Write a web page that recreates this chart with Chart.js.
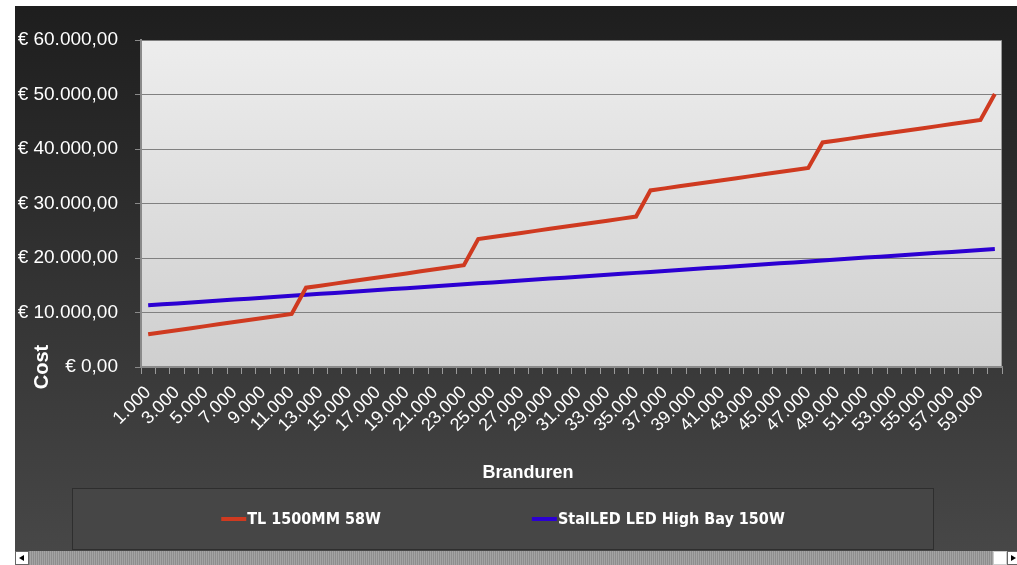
<!DOCTYPE html>
<html>
<head>
<meta charset="utf-8">
<script src="https://cdn.jsdelivr.net/npm/chart.js@4/dist/chart.umd.min.js"></script>
<style>
  body { margin: 0; background: #fff; width: 1017px; height: 565px; overflow: hidden; position: relative; }
  #wrap { position: absolute; left: 15px; top: 6px; width: 1002px; height: 545px; }
  #bar { position: absolute; left: 15px; top: 551px; width: 1002px; height: 14px;
         background-color: #9c9c9c;
         background-image: repeating-linear-gradient(90deg, #8e8e8e 0 1px, #a4a4a4 1px 2px); }
  .btn { position: absolute; top: 0; width: 12px; height: 12px; background: #fff; border: 1px solid #666; }
  .btn i { position: absolute; top: 3px; width: 0; height: 0; border-top: 3px solid transparent; border-bottom: 3px solid transparent; }
  #bl { left: 0; } #bl i { left: 3px; border-right: 5px solid #000; }
  #bm { left: 978px; border-color: #ccc; }
  #br { left: 992px; width: 9px; } #br i { left: 3px; border-left: 5px solid #000; }
</style>
</head>
<body>
<div id="wrap"><canvas id="c" width="1002" height="545"></canvas></div>
<div id="bar"><div class="btn" id="bl"><i></i></div><div class="btn" id="bm"></div><div class="btn" id="br"><i></i></div></div>
<script>
// branduren (burning hours)
var labels = ['1.000','2.000','3.000','4.000','5.000','6.000','7.000','8.000','9.000','10.000',
  '11.000','12.000','13.000','14.000','15.000','16.000','17.000','18.000','19.000','20.000',
  '21.000','22.000','23.000','24.000','25.000','26.000','27.000','28.000','29.000','30.000',
  '31.000','32.000','33.000','34.000','35.000','36.000','37.000','38.000','39.000','40.000',
  '41.000','42.000','43.000','44.000','45.000','46.000','47.000','48.000','49.000','50.000',
  '51.000','52.000','53.000','54.000','55.000','56.000','57.000','58.000','59.000','60.000'];

// cost in euro
var tlCost = [6000, 6375, 6750, 7125, 7500, 7875, 8250, 8625, 9000, 9375, 9750,
  14550, 14925, 15300, 15675, 16050, 16425, 16800, 17175, 17550, 17925, 18300, 18675,
  23475, 23850, 24225, 24600, 24975, 25350, 25725, 26100, 26475, 26850, 27225, 27600,
  32400, 32775, 33150, 33525, 33900, 34275, 34650, 35025, 35400, 35775, 36150, 36525,
  41200, 41575, 41950, 42325, 42700, 43075, 43450, 43825, 44200, 44575, 44950, 45325,
  50100];
var ledCost = [11320, 11495, 11670, 11845, 12020, 12195, 12370, 12545, 12720, 12895,
  13070, 13245, 13420, 13595, 13770, 13945, 14120, 14295, 14470, 14645,
  14820, 14995, 15170, 15345, 15520, 15695, 15870, 16045, 16220, 16395,
  16570, 16745, 16920, 17095, 17270, 17445, 17620, 17795, 17970, 18145,
  18320, 18495, 18670, 18845, 19020, 19195, 19370, 19545, 19720, 19895,
  20070, 20245, 20420, 20595, 20770, 20945, 21120, 21295, 21470, 21645];

var seriesNames = ['TL 1500MM 58W', 'StalLED LED High Bay 150W'];
var seriesColors = ['#cf3a20', '#2c00d2'];

function euro(v) {
  var s = String(Math.round(v)).replace(/\B(?=(\d{3})+(?!\d))/g, '.');
  return '€ ' + s + ',00';
}

var backdrop = {
  id: 'backdrop',
  beforeDraw: function(chart) {
    var ctx = chart.ctx, a = chart.chartArea;
    var g = ctx.createLinearGradient(0, 0, 0, chart.height);
    g.addColorStop(0, '#1e1e1e');
    g.addColorStop(1, '#474747');
    ctx.save();
    ctx.fillStyle = g;
    ctx.fillRect(0, 0, chart.width, chart.height);
    var p = ctx.createLinearGradient(0, a.top, 0, a.bottom);
    p.addColorStop(0, '#ededed');
    p.addColorStop(1, '#cfcfcf');
    ctx.fillStyle = p;
    ctx.fillRect(a.left, a.top, a.right - a.left, a.bottom - a.top);
    ctx.strokeStyle = '#9a9a9a';
    ctx.lineWidth = 1;
    ctx.strokeRect(a.left + 0.5, a.top + 0.5, a.right - a.left - 1, a.bottom - a.top - 1);
    // legend frame
    ctx.fillStyle = '#464646';
    ctx.fillRect(57, 482, 861, 61);
    ctx.strokeStyle = '#2e2e2e';
    ctx.strokeRect(57.5, 482.5, 861, 61);
    ctx.restore();
  },
  afterDraw: function(chart) {
    var ctx = chart.ctx, a = chart.chartArea;
    ctx.save();
    ctx.fillStyle = '#fff';
    ctx.textAlign = 'center';
    ctx.textBaseline = 'middle';
    // x axis title
    ctx.font = 'bold 18px "Liberation Sans", Arial, sans-serif';
    ctx.fillText('Branduren', 513, 467);
    // y axis title, sits low next to the 0 label
    ctx.translate(27, a.bottom);
    ctx.rotate(-Math.PI / 2);
    ctx.font = 'bold 20px "Liberation Sans", Arial, sans-serif';
    ctx.fillText('Cost', 0, 0);
    ctx.restore();

    // legend
    ctx.save();
    ctx.font = 'bold 16px "DejaVu Sans Condensed", "DejaVu Sans", sans-serif';
    ctx.textBaseline = 'middle';
    var sw = 25, gap = 152, y = 513;
    var w = chart.data.datasets.map(function(d) { return sw + ctx.measureText(d.label).width; });
    var total = w[0] + w[1] + gap;
    var x = 57 + 861 / 2 - total / 2;
    chart.data.datasets.forEach(function(d, i) {
      ctx.fillStyle = d.borderColor;
      ctx.fillRect(x, y - 2, sw, 4);
      ctx.fillStyle = '#fff';
      ctx.fillText(d.label, x + sw + 1, y + 1);
      x += w[i] + gap;
    });
    ctx.restore();
  }
};

var ctx = document.getElementById('c').getContext('2d');
var myChart = new Chart(ctx, {
  type: 'line',
  data: {
    labels: labels,
    datasets: [{
      label: seriesNames[0],
      data: tlCost,
      borderColor: seriesColors[0],
      backgroundColor: seriesColors[0],
      borderWidth: 4,
      pointRadius: 0,
      tension: 0
    }, {
      label: seriesNames[1],
      data: ledCost,
      borderColor: seriesColors[1],
      backgroundColor: seriesColors[1],
      borderWidth: 4,
      pointRadius: 0,
      tension: 0
    }]
  },
  options: {
    responsive: false,
    animation: false,
    devicePixelRatio: 1,
    layout: { padding: { top: 34, right: 15, bottom: 67, left: 0 } },
    plugins: {
      legend: { display: false },
      tooltip: { enabled: false }
    },
    scales: {
      x: {
        offset: true,
        afterFit: function(s) { s.height = 117; s.paddingLeft = 0; s.paddingRight = 0; },
        grid: { offset: true, drawOnChartArea: false, tickLength: 7, tickColor: '#9a9a9a' },
        border: { color: '#8a8a8a', width: 2 },
        ticks: {
          autoSkip: false,
          maxRotation: 45,
          minRotation: 45,
          padding: 8,
          color: '#fff',
          font: { family: '"Liberation Sans", Arial, sans-serif', size: 18 },
          callback: function(v, i) { return i % 2 === 0 ? labels[i] : ''; }
        }
      },
      y: {
        min: 0,
        max: 60000,
        afterFit: function(s) { s.width = 126; },
        grid: { color: '#808080', lineWidth: 1, tickLength: 6, tickColor: '#8a8a8a' },
        border: { color: '#8a8a8a', width: 2 },
        ticks: {
          stepSize: 10000,
          padding: 17,
          color: '#fff',
          font: { family: '"Liberation Sans", Arial, sans-serif', size: 19 },
          callback: function(v) { return euro(v); }
        }
      }
    }
  },
  plugins: [backdrop]
});
</script>
</body>
</html>
